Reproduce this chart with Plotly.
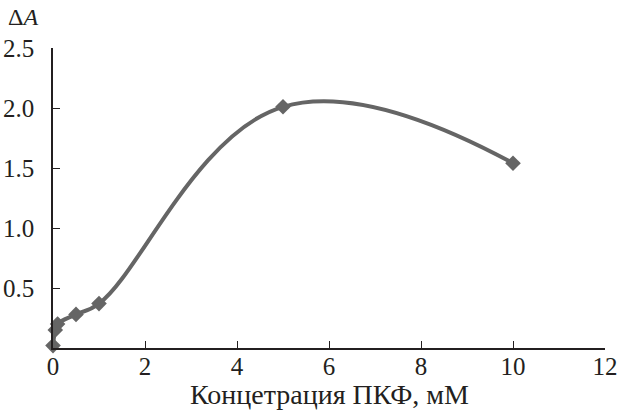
import plotly.graph_objects as go

conc = [0.0, 0.05, 0.1, 0.5, 1.0, 5.0, 10.0]
delta_a = [0.02, 0.15, 0.2, 0.28, 0.37, 2.01, 1.54]
x_ticks = [0, 2, 4, 6, 8, 10, 12]
y_ticks = [0.5, 1.0, 1.5, 2.0, 2.5]
y_tick_text = ["0.5", "1.0", "1.5", "2.0", "2.5"]

grey = "#656565"
ink = "#231f20"
tick_font = dict(family="Liberation Serif", size=25, color=ink)
title_font = dict(family="Liberation Serif", size=28, color=ink)

fig = go.Figure()
fig.add_trace(go.Scatter(
    x=conc, y=delta_a, mode="lines+markers",
    line=dict(color=grey, width=4, shape="spline", smoothing=1.2),
    marker=dict(symbol="diamond", size=12, color=grey),
    cliponaxis=False, showlegend=False,
))

fig.update_layout(
    width=621, height=410,
    margin=dict(l=53, r=16, t=48, b=62),
    paper_bgcolor="white", plot_bgcolor="white",
    font=tick_font,
    xaxis=dict(
        range=[0, 12], tickvals=x_ticks, ticks="inside", ticklen=7, tickwidth=1.3,
        tickcolor=ink, showline=True, linecolor=ink, linewidth=1.5, automargin=False,
        showgrid=False, zeroline=False, ticklabelstandoff=-5, tickfont=tick_font,
    ),
    yaxis=dict(
        range=[0, 2.5], tickvals=y_ticks, ticktext=y_tick_text, ticks="inside", ticklen=7,
        tickwidth=1.3, tickcolor=ink, showline=True, linecolor=ink, linewidth=1.5,
        automargin=False,
        showgrid=False, zeroline=False, ticklabelstandoff=12, tickfont=tick_font,
    ),
    annotations=[
        dict(text="Δ<i>A</i>", xref="paper", yref="paper", x=-0.086, y=1.105,
             xanchor="left", yanchor="middle", showarrow=False,
             font=dict(family="Liberation Serif", size=24, color=ink)),
        dict(text="Концетрация ПКФ, мМ", xref="paper", yref="paper", x=0.5, y=-0.155,
             xanchor="center", yanchor="middle", showarrow=False, font=title_font),
    ],
)

fig.write_html("out.html")
